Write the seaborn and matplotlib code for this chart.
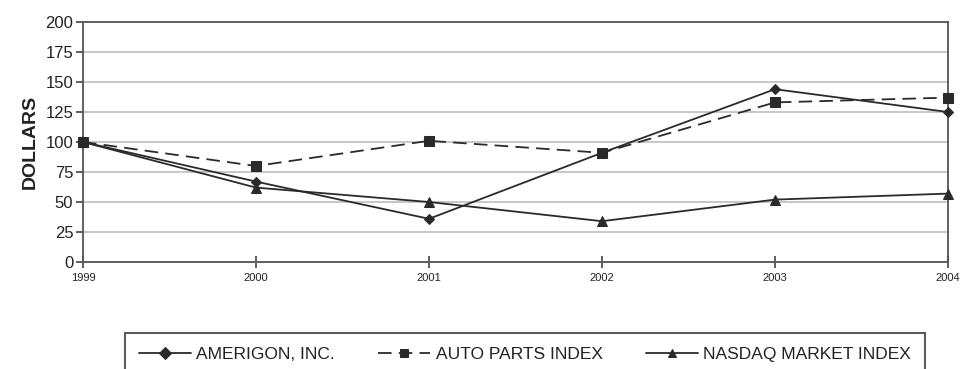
import seaborn as sns
import pandas as pd
import matplotlib.pyplot as plt

# data
years = [1999, 2000, 2001, 2002, 2003, 2004]
amerigon = [100, 67, 36, 91, 144, 125]
auto_parts = [100, 80, 101, 91, 133, 137]
nasdaq = [100, 62, 50, 34, 52, 57]
series_names = ['AMERIGON, INC.', 'AUTO PARTS INDEX', 'NASDAQ MARKET INDEX']
marker_map = {'AMERIGON, INC.': 'D', 'AUTO PARTS INDEX': 's', 'NASDAQ MARKET INDEX': '^'}
dash_map = {'AMERIGON, INC.': '', 'AUTO PARTS INDEX': (7.5, 4), 'NASDAQ MARKET INDEX': ''}

df = pd.DataFrame({
    'year': years * 3,
    'value': amerigon + auto_parts + nasdaq,
    'series': sum([[n] * len(years) for n in series_names], []),
})

sns.set_style('white')
plt.rcParams['font.family'] = ['Liberation Sans', 'DejaVu Sans']

W, H = 961, 369
fig = plt.figure(figsize=(W / 100, H / 100), dpi=100)
ax = fig.add_axes([83 / W, 1 - 262 / H, (948 - 83) / W, (262 - 22) / H])

ink = '#2a2a2a'
sns.lineplot(data=df, x='year', y='value', hue='series', style='series',
             palette=[ink] * 3, markers=marker_map, dashes=dash_map,
             markersize=7, linewidth=1.3, markeredgecolor=ink,
             ax=ax, legend=True, zorder=3, clip_on=False)

# per-series marker sizes (diamond is smaller)
sizes = {'D': 5.5, 's': 7, '^': 7}
for ln in ax.get_lines():
    m = ln.get_marker()
    if m in sizes:
        ln.set_markersize(sizes[m])

ax.set_xlim(1999, 2004)
ax.set_ylim(0, 200)
ax.set_yticks(range(0, 201, 25))
ax.set_xticks(years)
ax.set_xticklabels([str(y) for y in years])
ax.yaxis.grid(True, color='#bdbdbd', linewidth=1.2)
ax.xaxis.grid(False)
for s in ax.spines.values():
    s.set_color('#555555')
    s.set_linewidth(1.3)
ax.tick_params(axis='y', direction='out', length=5, width=1.2, color='#444444',
               labelsize=12, labelcolor='#222222', pad=2, left=True)
ax.tick_params(axis='x', direction='inout', length=8, width=1.2, color='#444444',
               labelsize=8, labelcolor='#222222', pad=4, bottom=True)
ax.set_xlabel('')
ax.set_ylabel('DOLLARS', fontsize=14, fontweight='bold', color='#222222', labelpad=5)

# legend box below the plot, partly cut off by the bottom edge
handles, labels = ax.get_legend_handles_labels()
ax.get_legend().remove()
leg = fig.legend(handles, labels, loc='upper left', ncol=3,
                 bbox_to_anchor=(125 / W, 1 - 333 / H), borderaxespad=0,
                 fontsize=12.5, frameon=True, fancybox=False, edgecolor='#333333',
                 handlelength=3.0, columnspacing=2.5, handletextpad=0.3,
                 borderpad=0.8, labelcolor='#222222')
leg.get_frame().set_linewidth(1.5)
for h in leg.legend_handles:
    h.set_markersize(6)

fig.savefig('out.png', dpi=100)
